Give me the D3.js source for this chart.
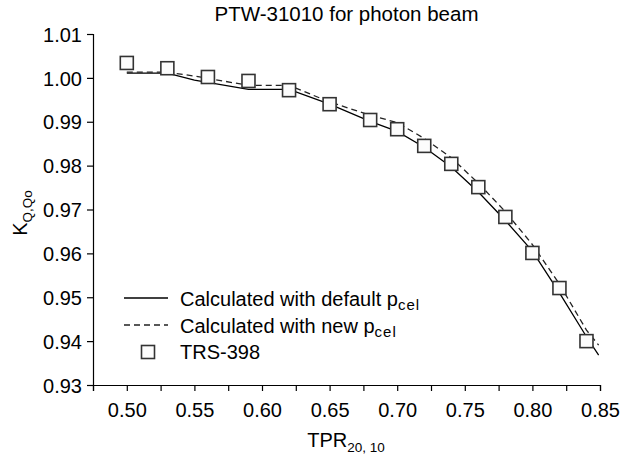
<!DOCTYPE html>
<html><head><meta charset="utf-8">
<script src="https://cdn.jsdelivr.net/npm/d3@7"></script>
<style>body{margin:0;background:#fff}svg{display:block;font-family:Arial,"Liberation Sans",sans-serif}</style>
</head><body><svg id="c" width="624" height="458"></svg>
<script>
const trsX = [0.50,0.53,0.56,0.59,0.62,0.65,0.68,0.70,0.72,0.74,0.76,0.78,0.80,0.82,0.84];
const trsY = [1.0034,1.0022,1.0002,0.9993,0.9972,0.9940,0.9904,0.9883,0.9845,0.9804,0.9751,0.9683,0.9601,0.9521,0.9400];
const calcX = [0.50,0.53,0.55,0.59,0.62,0.65,0.68,0.70,0.72,0.74,0.76,0.78,0.80,0.82,0.84,0.849];
const defaultY = [1.0011,1.0011,0.9995,0.9974,0.9974,0.9940,0.9901,0.9878,0.9842,0.9797,0.9740,0.9675,0.9605,0.9510,0.9410,0.9368];
const newY = [1.0013,1.0013,1.0004,0.9983,0.9983,0.9945,0.9915,0.9898,0.9862,0.9818,0.9760,0.9695,0.9620,0.9530,0.9425,0.9391];
const xTicks = [0.475,0.50,0.525,0.55,0.575,0.60,0.625,0.65,0.675,0.70,0.725,0.75,0.775,0.80,0.825,0.85];
const xLabels = [0.50,0.55,0.60,0.65,0.70,0.75,0.80,0.85];
const yTicks = [0.93,0.94,0.95,0.96,0.97,0.98,0.99,1.00,1.01];

const svg = d3.select("#c");
const x = d3.scaleLinear().domain([0.475,0.85]).range([93,600]);
const y = d3.scaleLinear().domain([0.93,1.01]).range([385,34]);

// axes
const xa = svg.append("g").attr("transform","translate(0,385)")
  .call(d3.axisBottom(x).tickValues(xTicks).tickSize(6).tickFormat(d => xLabels.some(v=>Math.abs(v-d)<1e-9) ? d3.format(".2f")(d) : ""));
xa.select(".domain").attr("stroke","#000").attr("stroke-width",1.2);
xa.selectAll(".tick line").attr("stroke","#000").attr("stroke-width",1.2);
xa.selectAll(".tick text").attr("font-size",20).attr("y",9).attr("dy","1.15em").attr("fill","#000");

const ya = svg.append("g").attr("transform","translate(93,0)")
  .call(d3.axisLeft(y).tickValues(yTicks).tickSize(6).tickFormat(d3.format(".2f")));
ya.select(".domain").attr("stroke","#000").attr("stroke-width",1.2);
ya.selectAll(".tick line").attr("stroke","#000").attr("stroke-width",1.2);
ya.selectAll(".tick text").attr("font-size",20).attr("x",-11).attr("dy","0.36em").attr("fill","#000");

// lines
const line = d3.line().x(d=>x(d[0])).y(d=>y(d[1]));
svg.append("path").datum(calcX.map((v,i)=>[v,defaultY[i]]))
  .attr("d",line).attr("fill","none").attr("stroke","#000").attr("stroke-width",1.3);
svg.append("path").datum(calcX.map((v,i)=>[v,newY[i]]))
  .attr("d",line).attr("fill","none").attr("stroke","#222").attr("stroke-width",1.3).attr("stroke-dasharray","6,4");

// squares
const s = 13;
svg.selectAll("rect.pt").data(trsX.map((v,i)=>[v,trsY[i]])).enter().append("rect")
  .attr("class","pt").attr("x",d=>x(d[0])-s/2).attr("y",d=>y(d[1])-s/2)
  .attr("width",s).attr("height",s).attr("fill","#fcfcfc").attr("stroke","#333").attr("stroke-width",1.6);

// title
svg.append("text").attr("x",346.5).attr("y",21).attr("text-anchor","middle").attr("font-size",20.5).text("PTW-31010 for photon beam");

// x label
const xl = svg.append("text").attr("x",346).attr("y",447).attr("text-anchor","middle").attr("font-size",20);
xl.append("tspan").text("TPR");
xl.append("tspan").attr("font-size",13.5).attr("dy",5).text("20, 10");

// y label
const yl = svg.append("text").attr("transform","translate(27,213) rotate(-90)").attr("text-anchor","middle").attr("font-size",20);
yl.append("tspan").text("K");
yl.append("tspan").attr("font-size",13.5).attr("dy",5).text("Q,Qo");

// legend
const lg = svg.append("g");
lg.append("line").attr("x1",124).attr("x2",168).attr("y1",298).attr("y2",298).attr("stroke","#000").attr("stroke-width",1.3);
lg.append("line").attr("x1",124).attr("x2",168).attr("y1",325).attr("y2",325).attr("stroke","#222").attr("stroke-width",1.3).attr("stroke-dasharray","6,4");
lg.append("rect").attr("x",148-6.5).attr("y",352-6.5).attr("width",13).attr("height",13).attr("fill","#fcfcfc").attr("stroke","#333").attr("stroke-width",1.6);
const t1 = lg.append("text").attr("x",180).attr("y",306).attr("font-size",20);
t1.append("tspan").text("Calculated with default p");
t1.append("tspan").attr("font-size",15).attr("dy",4).attr("letter-spacing",1).text("cel");
const t2 = lg.append("text").attr("x",180).attr("y",332.5).attr("font-size",20);
t2.append("tspan").text("Calculated with new p");
t2.append("tspan").attr("font-size",15).attr("dy",4).attr("letter-spacing",1).text("cel");
lg.append("text").attr("x",180).attr("y",359).attr("font-size",20).text("TRS-398");
</script></body></html>
